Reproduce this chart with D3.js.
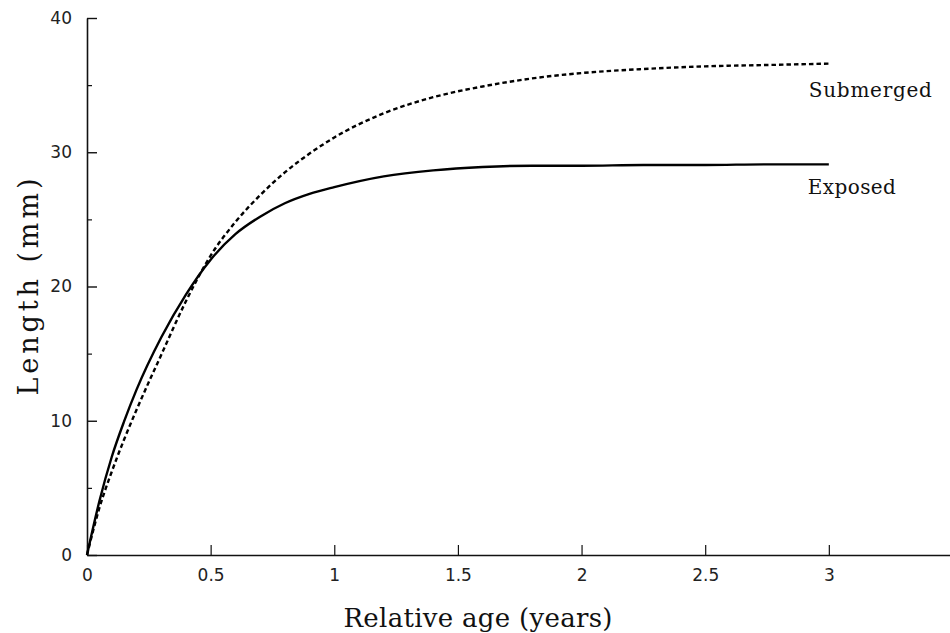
<!DOCTYPE html>
<html>
<head>
<meta charset="utf-8">
<script src="https://cdn.jsdelivr.net/npm/d3@7"></script>
<style>
  html, body { margin: 0; padding: 0; background: #fff; }
  svg { display: block; }
</style>
</head>
<body>
<svg id="chart"></svg>
<script>
const ages = [0, 0.05, 0.1, 0.15, 0.2, 0.3, 0.4, 0.5, 0.6, 0.7, 0.8, 0.9, 1.0, 1.2, 1.4, 1.6, 1.8, 2.0, 2.25, 2.5, 2.75, 3.0]

// Length (mm)
const exposed = [0, 4.0, 7.3, 9.95, 12.3, 16.2, 19.4, 22.0, 23.9, 25.2, 26.2, 26.9, 27.4, 28.2, 28.65, 28.9, 29.0, 29.0, 29.05, 29.05, 29.1, 29.1]
const submerged = [0, 3.5, 6.2, 8.6, 10.8, 14.9, 18.9, 22.3, 24.8, 26.8, 28.5, 29.9, 31.1, 32.9, 34.1, 34.9, 35.5, 35.9, 36.2, 36.4, 36.5, 36.6]

const seriesNames = ['Submerged', 'Exposed']

const xTicks = [0, 0.5, 1, 1.5, 2, 2.5, 3]
const xTickLabels = ['0', '0.5', '1', '1.5', '2', '2.5', '3']
const yTicks = [0, 10, 20, 30, 40]
const yMinorTicks = [5, 15, 25, 35]

const width = 950
const height = 633

const svg = d3.select('#chart')
  .attr('width', width)
  .attr('height', height)

const x = d3.scaleLinear().domain([0, 3.49]).range([87, 950])
const y = d3.scaleLinear().domain([0, 40]).range([555, 18])

// y axis, ticks point inward
const yAxis = svg.append('g')
  .attr('transform', `translate(${x(0)},0)`)
  .call(d3.axisLeft(y).tickValues(yTicks).tickSizeInner(-10).tickSizeOuter(0).tickPadding(15))
yAxis.select('.domain').attr('stroke', '#111').attr('stroke-width', 1.6)
yAxis.selectAll('.tick line').attr('stroke', '#111').attr('stroke-width', 1.4)
yAxis.selectAll('.tick text')
  .style('font-family', '"DejaVu Sans", sans-serif')
  .style('font-size', '17px')
  .attr('fill', '#222')

svg.append('g')
  .attr('transform', `translate(${x(0)},0)`)
  .call(d3.axisLeft(y).tickValues(yMinorTicks).tickSizeInner(-5).tickSizeOuter(0).tickFormat(''))
  .call(g => g.select('.domain').remove())
  .selectAll('.tick line').attr('stroke', '#111').attr('stroke-width', 1.2)

// x axis
const xAxis = svg.append('g')
  .attr('transform', `translate(0,${y(0)})`)
  .call(d3.axisBottom(x).tickValues(xTicks).tickFormat((d, i) => xTickLabels[i])
    .tickSizeInner(-10).tickSizeOuter(0).tickPadding(14))
xAxis.select('.domain').attr('stroke', '#111').attr('stroke-width', 1.6)
xAxis.selectAll('.tick line').attr('stroke', '#111').attr('stroke-width', 1.2)
xAxis.selectAll('.tick text')
  .style('font-family', '"DejaVu Sans", sans-serif')
  .style('font-size', '17px')
  .attr('fill', '#222')

// Axis titles
svg.append('text')
  .attr('x', 478)
  .attr('y', 627)
  .attr('text-anchor', 'middle')
  .attr('textLength', 269)
  .attr('lengthAdjust', 'spacing')
  .style('font-family', '"DejaVu Serif", serif')
  .style('font-size', '26px')
  .attr('fill', '#111')
  .text('Relative age (years)')

svg.append('text')
  .attr('transform', 'translate(38,287) rotate(-90)')
  .attr('text-anchor', 'middle')
  .attr('textLength', 217)
  .attr('lengthAdjust', 'spacing')
  .style('font-family', '"DejaVu Serif", serif')
  .style('font-size', '27px')
  .attr('fill', '#111')
  .text('Length (mm)')

// Curves
const line = d3.line()
  .x(d => x(d[0]))
  .y(d => y(d[1]))
  .curve(d3.curveMonotoneX)

svg.append('path')
  .datum(ages.map((a, i) => [a, exposed[i]]))
  .attr('fill', 'none')
  .attr('stroke', '#000')
  .attr('stroke-width', 2.4)
  .attr('d', line)

svg.append('path')
  .datum(ages.map((a, i) => [a, submerged[i]]))
  .attr('fill', 'none')
  .attr('stroke', '#000')
  .attr('stroke-width', 2.4)
  .attr('stroke-dasharray', '4.5,3')
  .attr('d', line)

// Curve labels
const lastAge = ages[ages.length - 1]
svg.append('text')
  .attr('x', x(lastAge) - 20)
  .attr('y', y(submerged[submerged.length - 1]) + 33)
  .attr('textLength', 123)
  .attr('lengthAdjust', 'spacing')
  .style('font-family', '"DejaVu Serif", serif')
  .style('font-size', '20px')
  .attr('fill', '#111')
  .text(seriesNames[0])

svg.append('text')
  .attr('x', x(lastAge) - 21)
  .attr('y', y(exposed[exposed.length - 1]) + 30)
  .attr('textLength', 88)
  .attr('lengthAdjust', 'spacing')
  .style('font-family', '"DejaVu Serif", serif')
  .style('font-size', '20px')
  .attr('fill', '#111')
  .text(seriesNames[1])
</script>
</body>
</html>
